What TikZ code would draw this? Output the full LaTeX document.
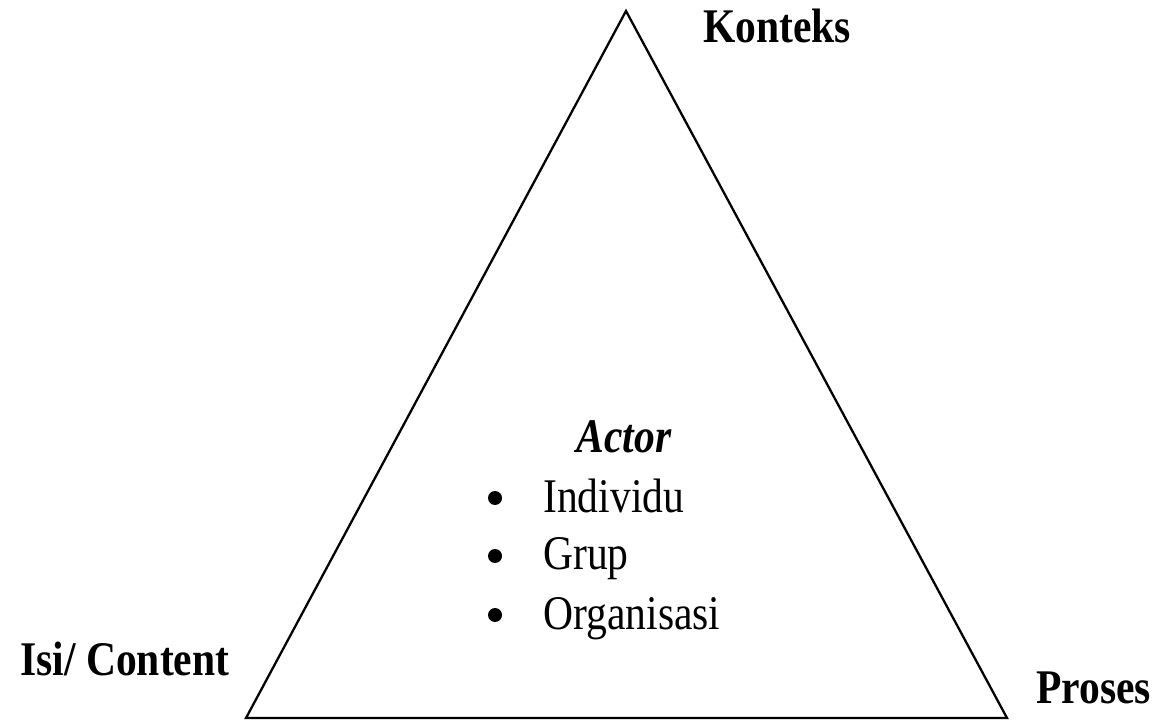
\documentclass[tikz,border=0pt]{standalone}
\usepackage{fontspec}
\setmainfont{Liberation Serif}[FakeStretch=0.86]
\begin{document}
\begin{tikzpicture}[x=0.02cm,y=-0.02cm,
    label/.style={font=\fontsize{27.5}{33}\selectfont\bfseries,inner sep=0pt},
    item/.style={font=\fontsize{27.5}{33}\selectfont,inner sep=0pt,anchor=base west},
    dot/.style={circle,fill,inner sep=0pt,minimum size=0.28cm}]
    \useasboundingbox (0,0) rectangle (1159,722);
    % Segitiga
    \coordinate (K) at (626,11);
    \coordinate (I) at (246,718);
    \coordinate (P) at (1007,718);

    \draw[line width=1.3pt,line join=miter] (K) -- (P) -- (I) -- cycle;

    \node[label,anchor=base west] (konteks) at (703,43) {Konteks};
    \node[label,anchor=base west] (isi) at (20,675) {Isi/ Content};
    \node[label,anchor=base west] (proses) at (1036,703) {Proses};

    % Actor
    \node[label,anchor=base,font=\fontsize{27.5}{33}\selectfont\bfseries\itshape] (actor) at (624,453) {Actor};
    \node[dot] (b1) at (495,498) {};
    \node[dot] (b2) at (495,556) {};
    \node[dot] (b3) at (495,615) {};
    \node[item] (individu) at (543,512) {Individu};
    \node[item] (grup) at (543,569) {Grup};
    \node[item] (organisasi) at (543,629) {Organisasi};
\end{tikzpicture}
\end{document}
